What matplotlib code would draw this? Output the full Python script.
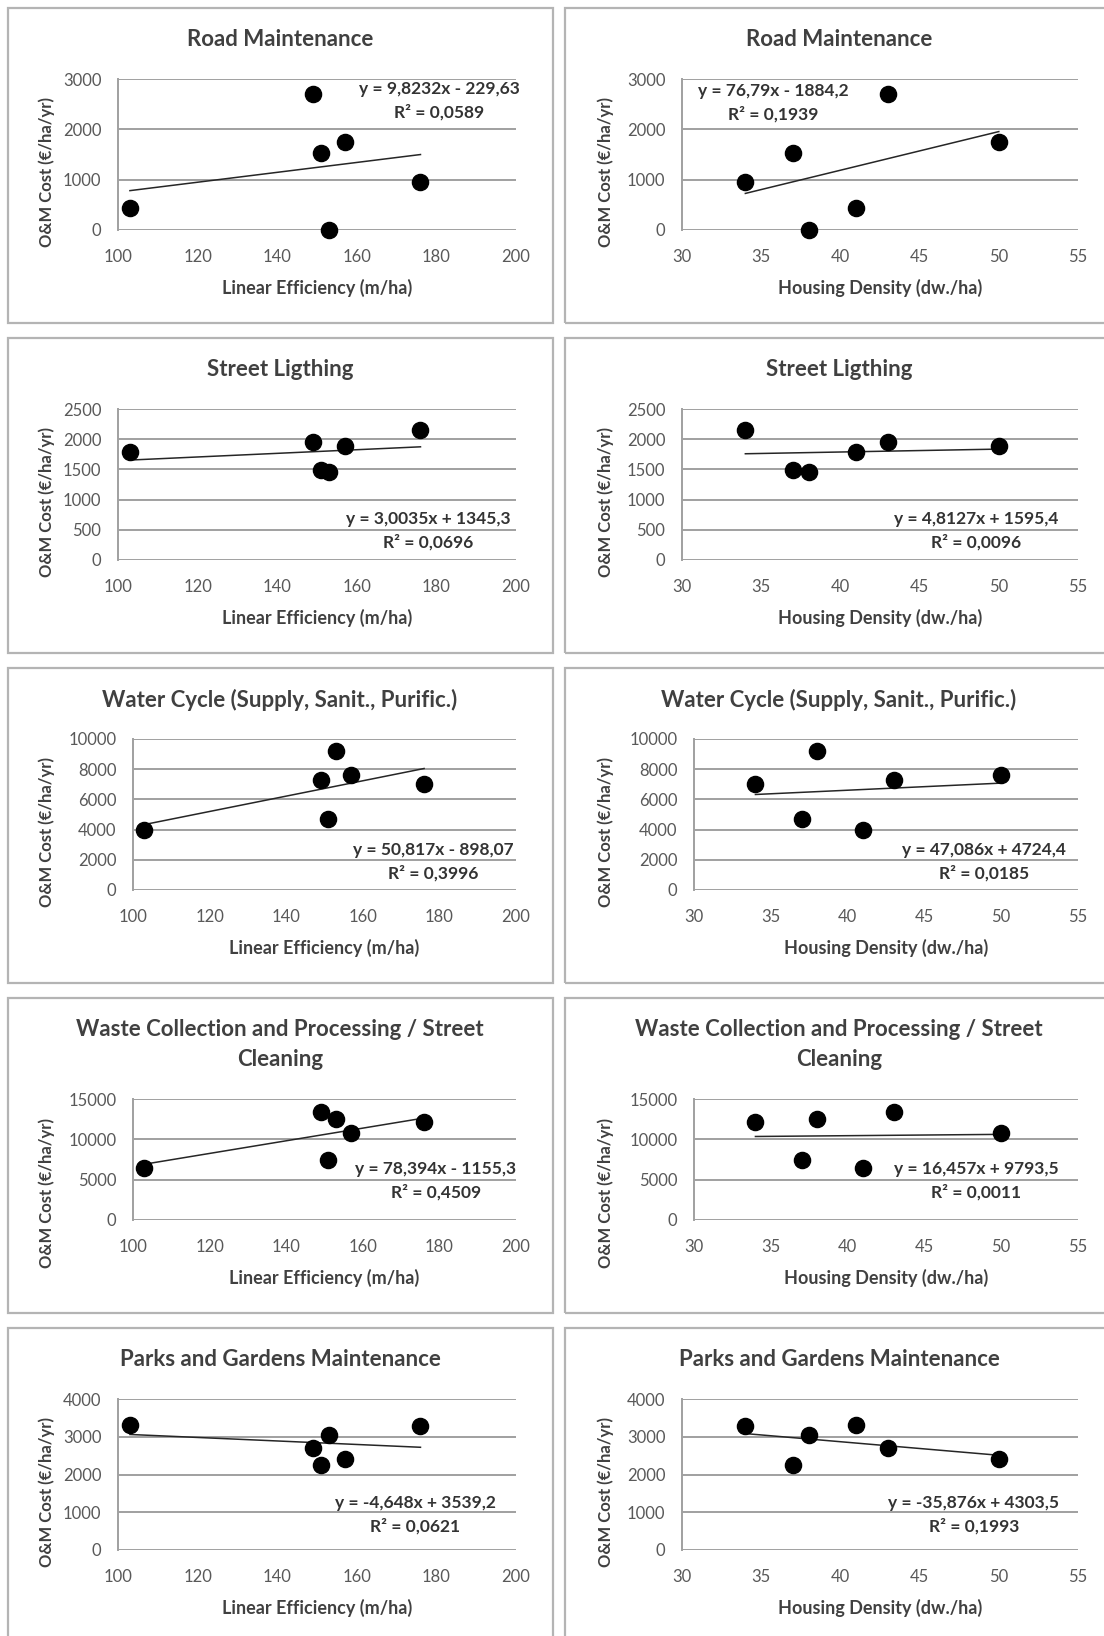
import numpy as np
import matplotlib.pyplot as plt
from matplotlib.patches import Rectangle

plt.rcParams['font.family'] = ['Lato', 'DejaVu Sans']

# six neighbourhoods: linear efficiency (m/ha) and housing density (dw./ha)
lin_eff = [103, 149, 151, 153, 157, 176]
hous_dens = [41, 43, 37, 38, 50, 34]

# O&M costs per service, same order as above (EUR/ha/yr)
road_cost = [430, 2700, 1530, 0, 1740, 950]
light_cost = [1790, 1960, 1490, 1460, 1880, 2150]
water_cost = [3950, 7300, 4700, 9200, 7600, 7000]
waste_cost = [6500, 13400, 7400, 12500, 10800, 12100]
parks_cost = [3300, 2700, 2250, 3050, 2400, 3280]

titles = ['Road Maintenance', 'Street Ligthing',
          'Water Cycle (Supply, Sanit., Purific.)',
          'Waste Collection and Processing / Street\nCleaning',
          'Parks and Gardens Maintenance']
costs = [road_cost, light_cost, water_cost, waste_cost, parks_cost]
y_max = [3000, 2500, 10000, 15000, 4000]
y_step = [1000, 500, 2000, 5000, 1000]

# linear trendlines (slope, intercept) vs linear efficiency / housing density
fit_le = [(9.8232, -229.63), (3.0035, 1345.3), (50.817, -898.07),
          (78.394, -1155.3), (-4.648, 3539.2)]
fit_hd = [(76.79, -1884.2), (4.8127, 1595.4), (47.086, 4724.4),
          (16.457, 9793.5), (-35.876, 4303.5)]
eq_le = ['y = 9,8232x - 229,63', 'y = 3,0035x + 1345,3',
         'y = 50,817x - 898,07', 'y = 78,394x - 1155,3',
         'y = -4,648x + 3539,2']
r2_le = ['0,0589', '0,0696', '0,3996', '0,4509', '0,0621']
eq_hd = ['y = 76,79x - 1884,2', 'y = 4,8127x + 1595,4',
         'y = 47,086x + 4724,4', 'y = 16,457x + 9793,5',
         'y = -35,876x + 4303,5']
r2_hd = ['0,1939', '0,0096', '0,0185', '0,0011', '0,1993']

W, H = 1104, 1636
PANEL_TOPS = [8, 338, 668, 998, 1328]
# label block positions (centre x, first-line offset from panel top)
EQ_POS_L = [(439, 81), (428, 181), (433, 182), (436, 171), (415, 175)]
EQ_POS_R = [(773, 83), (976, 181), (984, 182), (976, 171), (974, 175)]

GRID = '#a0a0a0'
DARK = '#404040'
TICK = '#595959'

fig = plt.figure(figsize=(W / 100, H / 100), dpi=100)


def fx(x):
    return x / W


def fy(y):
    return 1 - y / H


def panel(row, col):
    top = PANEL_TOPS[row]
    wide = y_max[row] >= 10000
    if col == 0:
        box_x0, box_x1 = 8, 553
        ax_x0, ax_x1 = (133 if wide else 118), 516
        xs, fit = lin_eff, fit_le[row]
        eq, r2, pos = eq_le[row], r2_le[row], EQ_POS_L[row]
        xlim, xstep = (100, 200), 20
        xlab, ylab_x, title_x = 'Linear Efficiency (m/ha)', 47, 280
    else:
        box_x0, box_x1 = 565, 1116
        ax_x0, ax_x1 = (694 if wide else 682), 1078
        xs, fit = hous_dens, fit_hd[row]
        eq, r2, pos = eq_hd[row], r2_hd[row], EQ_POS_R[row]
        xlim, xstep = (30, 55), 5
        xlab, ylab_x, title_x = 'Housing Density (dw./ha)', 606, 839

    # panel frame
    box_bottom = top + 315
    fig.add_artist(Rectangle((fx(box_x0), fy(box_bottom)),
                             (box_x1 - box_x0) / W, 315 / H,
                             transform=fig.transFigure, fill=False,
                             edgecolor='#b4b4b4', linewidth=1.6))

    title_lines = titles[row].split('\n')
    two_line = len(title_lines) > 1
    ax_top = top + (101 if two_line else 71)
    ax_bot = top + 222
    ax = fig.add_axes([fx(ax_x0), fy(ax_bot), (ax_x1 - ax_x0) / W,
                       (ax_bot - ax_top) / H])

    ys = costs[row]
    ax.scatter(xs, ys, s=135, color='black', zorder=3, clip_on=False)
    x_fit = np.array([min(xs), max(xs)])
    ax.plot(x_fit, fit[0] * x_fit + fit[1], color='#262626', linewidth=1.1,
            zorder=2)

    ax.set_xlim(*xlim)
    ax.set_ylim(0, y_max[row])
    ax.set_xticks(np.arange(xlim[0], xlim[1] + 1, xstep))
    ax.set_yticks(np.arange(0, y_max[row] + 1, y_step[row]))
    ax.grid(axis='y', color=GRID, linewidth=1.4)
    ax.set_axisbelow(True)
    for s in ['top', 'right', 'bottom']:
        ax.spines[s].set_visible(False)
    ax.spines['left'].set_color(GRID)
    ax.spines['left'].set_linewidth(1.4)
    ax.tick_params(length=0, labelsize=12, labelcolor=TICK)
    ax.tick_params(axis='y', pad=12)
    ax.tick_params(axis='x', pad=14)

    # titles and axis labels
    for i, line in enumerate(title_lines):
        fig.text(fx(title_x), fy(top + 32 + 30 * i), line, ha='center',
                 va='center', fontsize=16, fontweight='bold', color=DARK)
    fig.text(fx((ax_x0 + ax_x1) / 2), fy(top + 280), xlab, ha='center',
             va='center', fontsize=13, fontweight='bold', color=DARK)
    fig.text(fx(ylab_x), fy(top + (195 if two_line else 164)),
             'O&M Cost (€/ha/yr)', ha='center', va='center', rotation=90,
             fontsize=12, fontweight='bold', color=DARK)

    # trendline equation
    fig.text(fx(pos[0]), fy(top + pos[1]), eq, ha='center', va='center',
             fontsize=12.5, fontweight='bold', color='#333333')
    fig.text(fx(pos[0]), fy(top + pos[1] + 23), 'R² = ' + r2, ha='center',
             va='center', fontsize=12.5, fontweight='bold', color='#333333')


for row in range(5):
    for col in range(2):
        panel(row, col)

fig.savefig('out.png', dpi=100, facecolor='white')
